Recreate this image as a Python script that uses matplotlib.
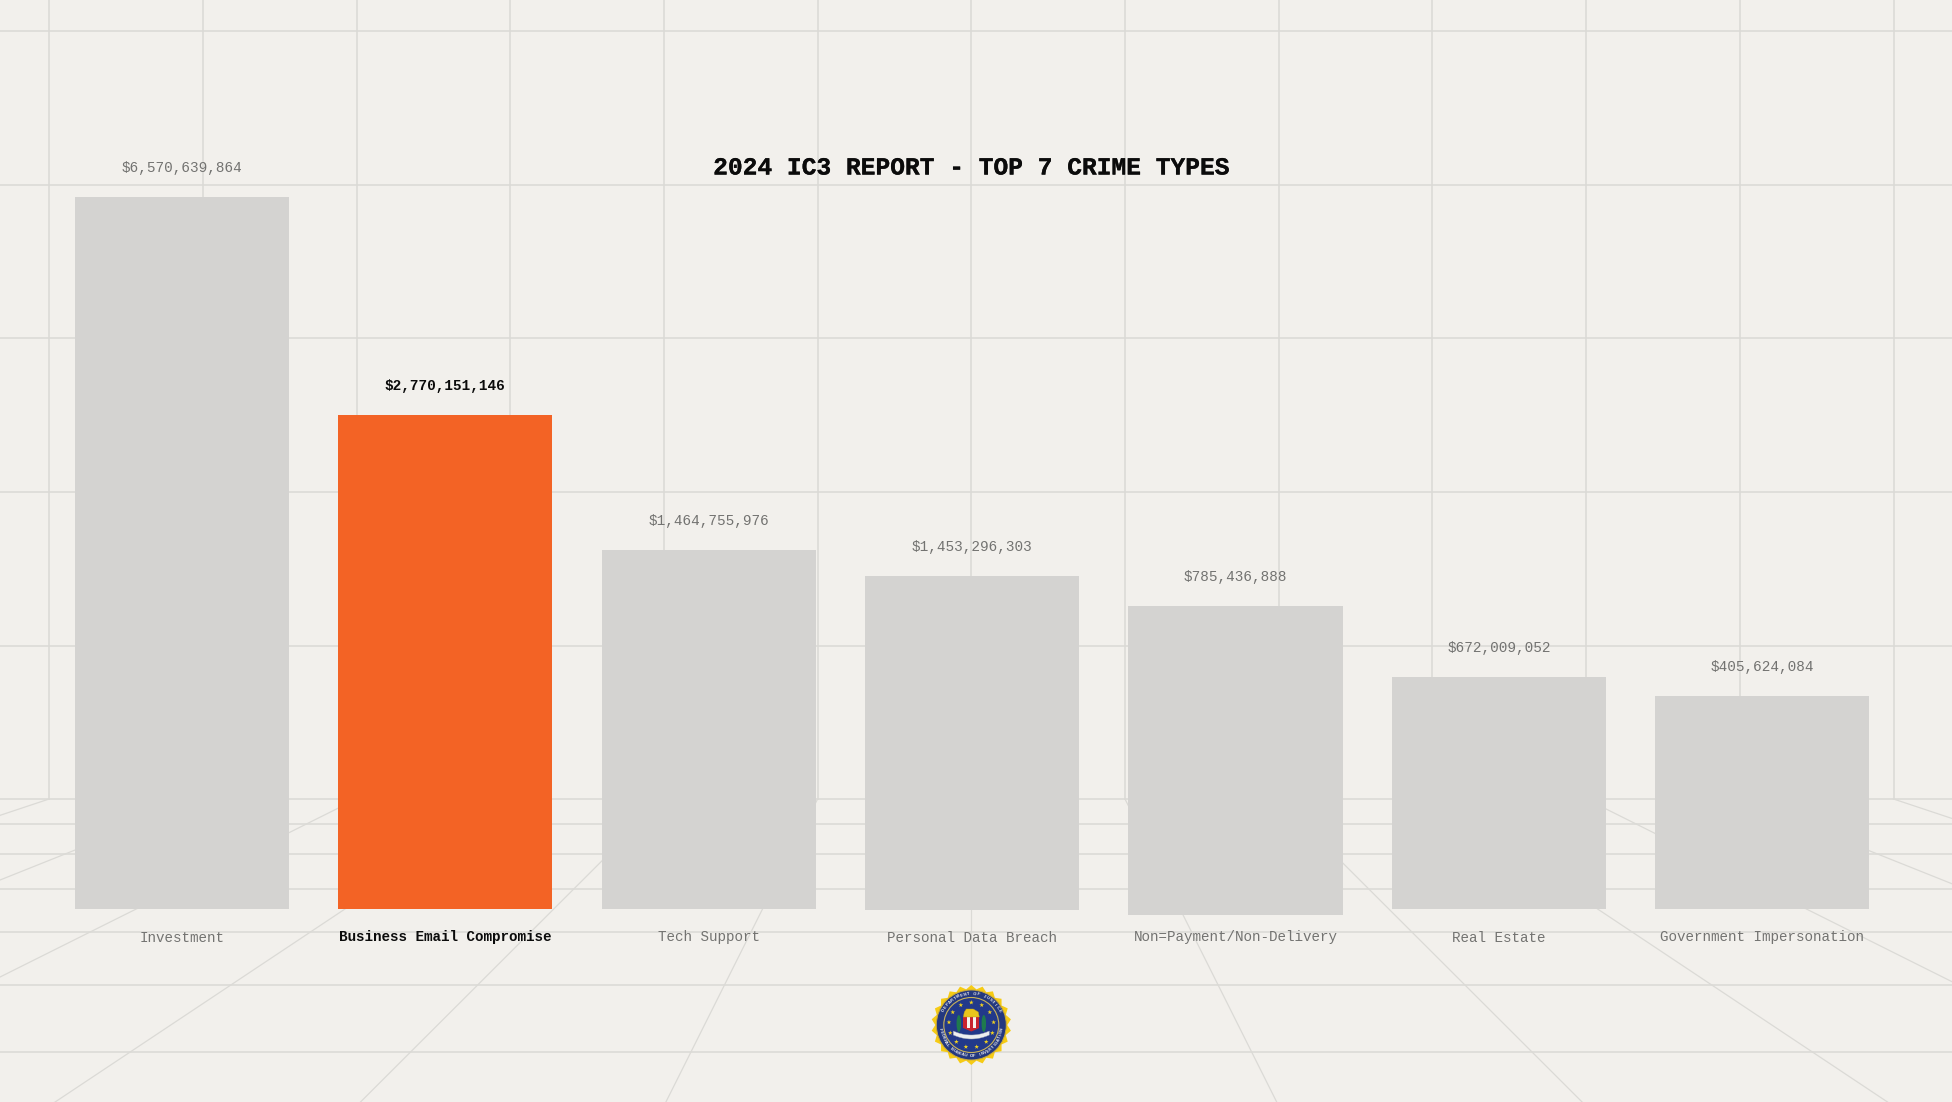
"""Render the 2024 IC3 top crime types chart on a perspective grid."""

import math
import numpy as np
import matplotlib
import matplotlib.pyplot as plt
import matplotlib.patheffects as pe
from matplotlib.patches import Circle, Polygon, Rectangle, Ellipse

matplotlib.use("Agg")

TITLE = "2024 IC3 REPORT - TOP 7 CRIME TYPES"

categories = [
    "Investment",
    "Business Email Compromise",
    "Tech Support",
    "Personal Data Breach",
    "Non=Payment/Non-Delivery",
    "Real Estate",
    "Government Impersonation",
]
value_labels = [
    "$6,570,639,864",
    "$2,770,151,146",
    "$1,464,755,976",
    "$1,453,296,303",
    "$785,436,888",
    "$672,009,052",
    "$405,624,084",
]
# drawn bar heights are not proportional to the dollar labels in the source
bar_heights = [712, 494, 359, 334, 309, 232, 213]
bar_bases = [0, 0, 0, -1, -6, 0, 0]
highlight = 1

BG = "#f2f0ec"
GRID = "#dbdad6"
BAR = "#d4d3d1"
ORANGE = "#f36325"
MUTED = "#737371"
INK = "#0b0b0b"
MONO = ["Liberation Mono", "DejaVu Sans Mono"]

W, H = 1952, 1102
BASELINE = 909
VANISH_X, VANISH_Y = 971.3, 492
WALL_FLOOR_Y = 799
GRID_STEP = 153.7

wall_rows = [31, 185, 338, 492, 645.5, 799]
floor_rows = [824, 853.7, 889, 931.7, 985.3, 1052.3]


def draw_grid(ax):
    """Back wall grid plus floor lines running out of the vanishing point."""
    for y in wall_rows + floor_rows:
        ax.plot([0, W], [y, y], color=GRID, lw=1.15, zorder=1)
    for n in range(-6, 7):
        x = VANISH_X + n * GRID_STEP
        ax.plot([x, x], [0, WALL_FLOOR_Y], color=GRID, lw=1.15, zorder=1)
        # extend each line to well past the bottom of the canvas
        far_y = H + 200
        t = (far_y - VANISH_Y) / (WALL_FLOOR_Y - VANISH_Y)
        ax.plot([x, VANISH_X + (x - VANISH_X) * t], [WALL_FLOOR_Y, far_y], color=GRID, lw=0.9, zorder=1)


def _arc_text(ax, cx, cy, r, text, start_deg, end_deg, flip):
    """Place characters one by one along an arc (angles clockwise from top)."""
    for ch, a in zip(text, np.linspace(start_deg, end_deg, len(text))):
        rad = math.radians(a)
        x = cx + r * math.sin(rad)
        y = cy - r * math.cos(rad)
        rot = 180 - a if flip else -a
        ax.text(x, y, ch, fontsize=3.1, color="#e8e9ee", ha="center", va="center",
                rotation=rot, rotation_mode="anchor", family="Liberation Sans",
                fontweight="bold", zorder=14)


def _star_points(cx, cy, r_out, r_in, n):
    pts = []
    for i in range(2 * n):
        r = r_out if i % 2 == 0 else r_in
        a = math.pi * i / n
        pts.append((cx + r * math.sin(a), cy - r * math.cos(a)))
    return pts


def draw_seal(ax, cx, cy):
    """Rough FBI seal built out of patches."""
    ax.add_patch(Polygon(_star_points(cx, cy, 40, 36, 22), closed=True, fc="#f6cb14", ec="none", zorder=10))
    ax.add_patch(Circle((cx, cy), 35, fc="#24387f", ec="#c9a93b", lw=0.7, zorder=11))
    ax.add_patch(Circle((cx, cy), 27.5, fc="#22398a", ec="#c8b25a", lw=0.8, zorder=12))
    _arc_text(ax, cx, cy, 31.2, "DEPARTMENT OF JUSTICE", -62, 62, False)
    _arc_text(ax, cx, cy, 31.2, "FEDERAL BUREAU OF INVESTIGATION", 262, 98, True)

    for i in range(13):
        a = 2 * math.pi * i / 13
        sx = cx + 22.5 * math.sin(a)
        sy = cy - 22.5 * math.cos(a)
        ax.add_patch(Polygon(_star_points(sx, sy, 2.4, 0.95, 5), closed=True, fc="#f2d21e", ec="none", zorder=13))

    # laurels
    for side in (-1, 1):
        ax.add_patch(Ellipse((cx + side * 12.5, cy - 1.5), 4.5, 17, fc="#1f7a4d", ec="none", zorder=14))
    # shield
    sw, top, bot = 8, cy - 8, cy + 3
    for i, col in enumerate(["#c8242f", "#f6f3ef", "#c8242f", "#f6f3ef", "#c8242f"]):
        x0 = cx - sw + i * (2 * sw / 5)
        ax.add_patch(Rectangle((x0, top), 2 * sw / 5, bot - top, fc=col, ec="none", zorder=14))
    ax.add_patch(Polygon([(cx - sw, bot), (cx + sw, bot), (cx, bot + 3.5)], closed=True, fc="#c8242f", ec="none", zorder=14))
    ax.add_patch(Polygon([(cx - 8, top), (cx + 8, top), (cx + 7, top - 5), (cx + 2, top - 8), (cx - 5, top - 8), (cx - 7, top - 5)],
                         closed=True, fc="#e9c61c", ec="#b89a1a", lw=0.3, zorder=15))
    # ribbon
    xs = np.linspace(-18, 18, 25)
    ys = cy + 10 - 4 * (xs / 18) ** 2
    top_edge = list(zip(cx + xs, ys))
    bottom_edge = list(zip(cx + xs[::-1], ys[::-1] + 4))
    ax.add_patch(Polygon(top_edge + bottom_edge, closed=True, fc="#eceef0", ec="#9aa3b5", lw=0.3, zorder=15))


def main():
    fig = plt.figure(figsize=(W / 100, H / 100), dpi=100, facecolor=BG)

    # pixel-space layer for the backdrop
    bg = fig.add_axes([0, 0, 1, 1])
    bg.set_xlim(0, W)
    bg.set_ylim(H, 0)
    bg.set_facecolor(BG)
    bg.axis("off")
    draw_grid(bg)

    # bars go on their own axes: one slot per category, 0 at the baseline
    ax = fig.add_axes([50.2 / W, 0, 1843.8 / W, 1], facecolor="none")
    ax.set_xlim(-0.5, len(categories) - 0.5)
    ax.set_ylim(BASELINE - H, BASELINE)
    ax.axis("off")

    xs = np.arange(len(categories))
    colors = [ORANGE if i == highlight else BAR for i in xs]
    ax.bar(xs, bar_heights, width=0.8125, bottom=bar_bases, color=colors, zorder=3)

    for i, (name, label) in enumerate(zip(categories, value_labels)):
        is_hi = i == highlight
        col = INK if is_hi else MUTED
        weight = "bold" if is_hi else "normal"
        top = bar_heights[i] + bar_bases[i]
        ax.text(i, top + 29, label, ha="center", va="center", fontsize=10.4,
                family=MONO, color=col, fontweight=weight, zorder=5)
        ax.text(i, BASELINE - 937.5, name, ha="center", va="center", fontsize=10.3,
                family=MONO, color=col, fontweight=weight, zorder=5)

    title = bg.text(VANISH_X, 167.5, TITLE, ha="center", va="center", fontsize=17.7,
                    family=MONO, color=INK, fontweight="bold", zorder=6)
    # source title is a slightly heavier cut than Liberation Mono Bold
    title.set_path_effects([pe.withStroke(linewidth=0.2, foreground=INK)])
    draw_seal(bg, VANISH_X, 1025)

    fig.savefig("out.png", dpi=100, facecolor=BG)
    plt.close(fig)


if __name__ == "__main__":
    main()
